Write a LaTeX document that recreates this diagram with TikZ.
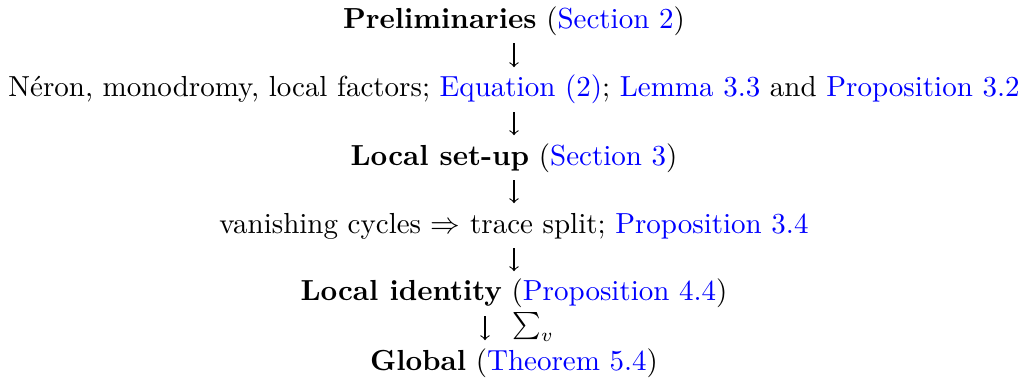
\documentclass[tikz,border=0pt]{standalone}
\usetikzlibrary{arrows}
\definecolor{linkblue}{rgb}{0,0,1}
\newcommand{\lnk}[1]{\textcolor{linkblue}{#1}}
\begin{document}
\begin{tikzpicture}[x=.369pt,y=-.369pt,line width=.4pt,
  every node/.style={anchor=base,inner sep=2.8pt,text height=8pt,text depth=2.7pt,
    font=\fontsize{10.7pt}{13pt}\selectfont}]
  \path[use as bounding box] (0,0) rectangle (1025,379);
  \node (pre) at (514,28) {\textbf{Preliminaries} (\lnk{Section 2})};
  \node (ner) at (514,97) {N\'eron, monodromy, local factors; \lnk{Equation (2)}; \lnk{Lemma 3.3} and \lnk{Proposition 3.2}};
  \node (loc) at (514,165) {\textbf{Local set-up} (\lnk{Section 3})};
  \node (van) at (514,233) {vanishing cycles $\Rightarrow$ trace split; \lnk{Proposition 3.4}};
  \node (lid) at (514,301) {\textbf{Local identity} (\lnk{Proposition 4.4})};
  \node (glo) at (514,370) {\textbf{Global} (\lnk{Theorem 5.4})};
  \draw[-to] (pre) -- (ner);
  \draw[-to] (ner) -- (loc);
  \draw[-to] (loc) -- (van);
  \draw[-to] (van) -- (lid);
  \draw[-to] ([xshift=-29*.369pt]lid.south) -- ([xshift=-29*.369pt]glo.north)
    node[midway,anchor=west,xshift=10pt,yshift=.5pt,inner sep=0pt,text height=,text depth=] {$\sum_v$};
\end{tikzpicture}
\end{document}
